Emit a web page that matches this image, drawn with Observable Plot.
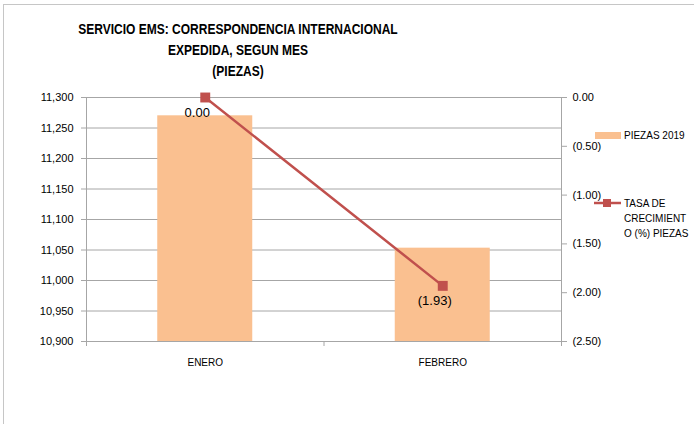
<!DOCTYPE html>
<html>
<head>
<meta charset="utf-8">
<script src="https://cdn.jsdelivr.net/npm/d3@7"></script>
<script src="https://cdn.jsdelivr.net/npm/@observablehq/plot@0.6"></script>
<style>
  body { margin: 0; background: #fff; }
  #wrap { position: relative; width: 694px; height: 424px; overflow: hidden; font-family: "Liberation Sans", Arial, sans-serif; }
  #border { position: absolute; left: 3px; top: 4px; width: 720px; height: 440px; border: 1px solid #c6c6c6; box-sizing: border-box; }
  #title { position: absolute; left: 38px; width: 400px; top: 18px; text-align: center; font-family: "Liberation Sans", Arial, sans-serif; font-weight: bold; font-size: 15px; line-height: 21px; color: #000; transform: scaleX(0.8); transform-origin: 200px 0; }
  .leg { position: absolute; font-size: 10px; color: #000; line-height: 15px; }
  svg { position: absolute; left: 0; top: 0; }
</style>
</head>
<body>
<div id="wrap">
  <div id="border"></div>
  <div id="title">SERVICIO EMS: CORRESPONDENCIA INTERNACIONAL<br>EXPEDIDA, SEGUN MES<br>(PIEZAS)</div>
</div>
<script>
const months = ["ENERO", "FEBRERO"];
const piezas2019 = [11270, 11053];
const tasaCrecimiento = [0.00, -1.93];
const leftTicks = [10900, 10950, 11000, 11050, 11100, 11150, 11200, 11250, 11300];
const rightTicks = [0, -0.5, -1, -1.5, -2, -2.5];
const seriesNames = ["PIEZAS 2019", "TASA DE CRECIMIENT O (%) PIEZAS"];

const leftDomain = [10900, 11300];
const rightDomain = [-2.5, 0];
const toLeft = d3.scaleLinear(rightDomain, leftDomain);
const toRight = toLeft.invert;

const data = months.map((m, i) => ({i, month: m, piezas: piezas2019[i], tasa: tasaCrecimiento[i]}));

const fmtRate = v => {
  const s = Math.abs(v).toFixed(2);
  return v < -1e-9 ? `(${s})` : s;
};

const barColor = "#FAC090";
const lineColor = "#C0504D";
const axisColor = "#a6a6a6";

const chart = Plot.plot({
  width: 694,
  height: 424,
  marginLeft: 86,
  marginRight: 133,
  marginTop: 97,
  marginBottom: 83,
  style: {fontFamily: "'Liberation Sans', Arial, sans-serif", fontSize: "11px", background: "transparent"},
  x: {domain: [-0.5, months.length - 0.5], axis: null, label: null},
  y: {domain: leftDomain, axis: null, label: null},
  marks: [
    Plot.gridY(leftTicks, {stroke: axisColor, strokeOpacity: 1}),
    Plot.rectY(data, {x1: d => d.i - 0.2, x2: d => d.i + 0.2, y1: leftDomain[0], y2: "piezas", fill: barColor}),
    Plot.frame({stroke: axisColor}),
    Plot.axisY(leftTicks, {anchor: "left", label: null, tickSize: 5, tickPadding: 8, tickFormat: d3.format(","), stroke: axisColor, color: "#000"}),
    Plot.axisY(rightTicks.map(toLeft), {anchor: "right", label: null, tickSize: 5, tickPadding: 6, tickFormat: v => fmtRate(toRight(v)), stroke: axisColor, color: "#000", textAnchor: "start"}),
    Plot.axisX(d3.range(-0.5, months.length, 1), {anchor: "bottom", label: null, tickSize: 5, tickFormat: () => "", stroke: axisColor}),
    Plot.axisX(d3.range(months.length), {anchor: "bottom", label: null, tickSize: 0, tickPadding: 17, tickFormat: i => months[i], fontSize: 10, color: "#000"}),
    Plot.line(data, {x: "i", y: d => toLeft(d.tasa), stroke: lineColor, strokeWidth: 2.5}),
    Plot.dot(data, {x: "i", y: d => toLeft(d.tasa), symbol: "square", r: 5.6, fill: lineColor, stroke: "none"}),
    Plot.text(data, {x: "i", y: d => toLeft(d.tasa), text: d => fmtRate(d.tasa), dy: 15, dx: -8, fontSize: 13, fill: "#000"})
  ]
});
const wrap = document.getElementById("wrap");
wrap.insertBefore(chart, document.getElementById("title"));

// legend
const legSvg = d3.select(wrap).append("svg").attr("width", 694).attr("height", 424).style("pointer-events", "none");
legSvg.append("rect").attr("x", 595).attr("y", 132).attr("width", 26).attr("height", 7).attr("fill", barColor);
legSvg.append("line").attr("x1", 594).attr("x2", 621).attr("y1", 203).attr("y2", 203).attr("stroke", lineColor).attr("stroke-width", 2.5);
legSvg.append("rect").attr("x", 603).attr("y", 199).attr("width", 8).attr("height", 8).attr("fill", lineColor);
const l1 = document.createElement("div");
l1.className = "leg"; l1.style.left = "624px"; l1.style.top = "128px"; l1.textContent = seriesNames[0];
const l2 = document.createElement("div");
l2.className = "leg"; l2.style.left = "624px"; l2.style.top = "196px"; l2.style.width = "66px"; l2.textContent = seriesNames[1];
wrap.appendChild(l1); wrap.appendChild(l2);
</script>
</body>
</html>
